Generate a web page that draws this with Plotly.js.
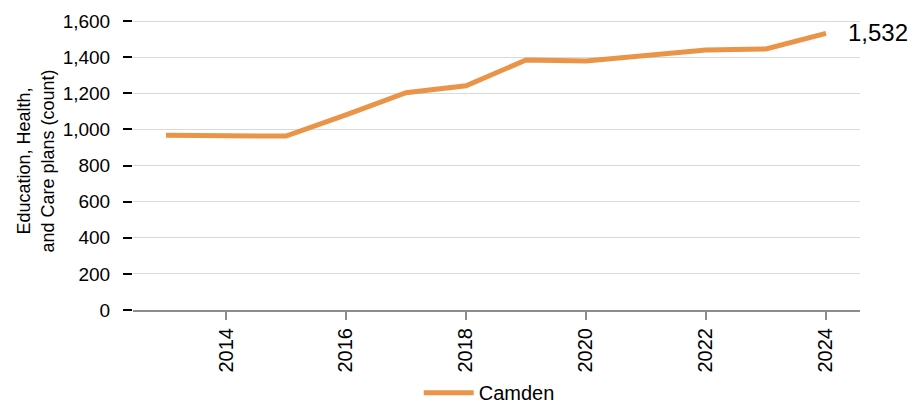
<!DOCTYPE html>
<html>
<head>
<meta charset="utf-8">
<script src="https://cdn.plot.ly/plotly-3.0.1.min.js"></script>
<style>html,body{margin:0;padding:0;background:#fff;}#chart{width:916px;height:403px;}</style>
</head>
<body>
<div id="chart"></div>
<script>
const years = [2013, 2014, 2015, 2016, 2017, 2018, 2019, 2020, 2021, 2022, 2023, 2024];
const camden = [967, 968, 963, 1080, 1203, 1242, 1384, 1379, 1408, 1440, 1445, 1532];
const seriesName = "Camden";
const xTicks = [2014, 2016, 2018, 2020, 2022, 2024];
const yTicks = [0, 200, 400, 600, 800, 1000, 1200, 1400, 1600];
const lineColor = "#EA9448";
const font = "Liberation Sans, Arial, sans-serif";

const lastX = years[years.length - 1];
const lastY = camden[camden.length - 1];

const trace = {
  x: years, y: camden, type: "scatter", mode: "lines", name: seriesName,
  line: {color: lineColor, width: 5}, hoverinfo: "x+y"
};

const layout = {
  width: 916, height: 403,
  margin: {l: 133, r: 56, t: 12, b: 93, autoexpand: false},
  paper_bgcolor: "#fff", plot_bgcolor: "#fff",
  font: {family: font, color: "#000", size: 19},
  showlegend: true,
  legend: {orientation: "h", x: 0.49, xanchor: "center", y: -0.212, yanchor: "top",
           itemwidth: 50, font: {size: 20, family: font}},
  xaxis: {
    automargin: false,
    range: [2012.45, 2024.567], tickvals: xTicks, ticktext: xTicks.map(String),
    tickangle: -90, ticks: "outside", ticklen: 8, tickwidth: 2, tickcolor: "#8c8c8c",
    ticklabelstandoff: 0,
    showgrid: false, showline: true, linecolor: "#8c8c8c", linewidth: 2,
    zeroline: false, tickfont: {size: 20}
  },
  yaxis: {
    automargin: false,
    range: [0, 1650], tickvals: yTicks, ticktext: yTicks.map(v => v.toLocaleString("en-US")),
    ticks: "outside", ticklen: 9, tickwidth: 2, tickcolor: "#000",
    ticklabelstandoff: 9,
    showgrid: true, gridcolor: "#d9d9d9", gridwidth: 1,
    zeroline: false, showline: false, tickfont: {size: 19},
    title: {text: "Education, Health,<br>and Care plans (count)", font: {size: 18}, standoff: 3}
  },
  annotations: [{
    x: lastX, y: lastY, xref: "x", yref: "y", text: lastY.toLocaleString("en-US"),
    showarrow: false, xanchor: "left", yanchor: "middle", xshift: 20, yshift: 1,
    font: {size: 24, family: font, color: "#000"}
  }]
};

Plotly.newPlot("chart", [trace], layout, {displayModeBar: false, staticPlot: true});
</script>
</body>
</html>
